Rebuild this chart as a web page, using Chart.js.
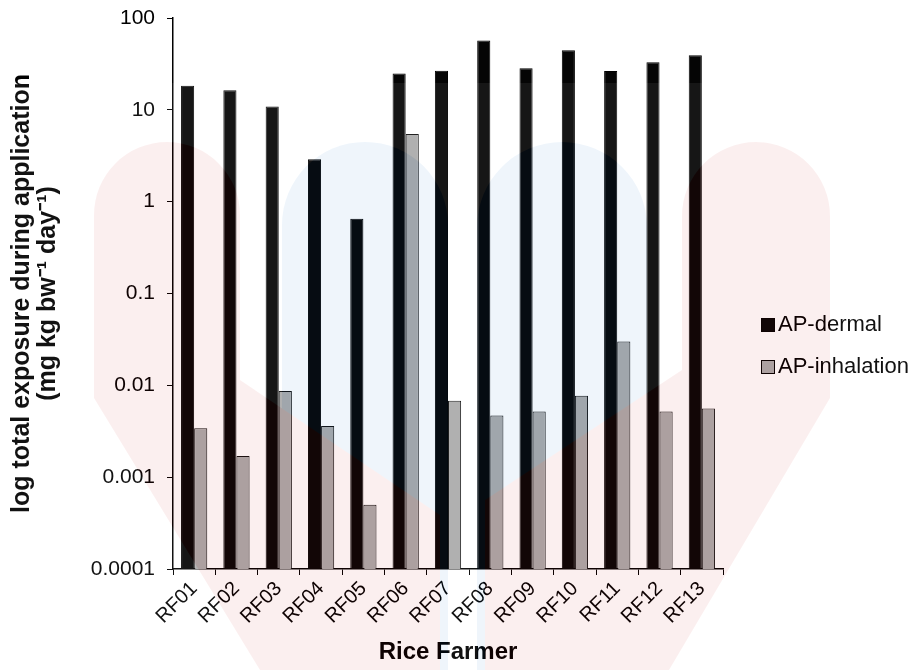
<!DOCTYPE html>
<html>
<head>
<meta charset="utf-8">
<script src="https://cdn.jsdelivr.net/npm/chart.js@4/dist/chart.umd.min.js"></script>
<style>
  html, body { margin: 0; padding: 0; background: #fff; }
  #wrap { position: relative; width: 918px; height: 670px; }
  #chart { position: absolute; left: 0; top: 0; }
  #mark { position: absolute; left: 0; top: 0; pointer-events: none; }
</style>
</head>
<body>
<div id="wrap">
  <canvas id="chart" width="918" height="670"></canvas>
  <!-- faint watermark seen behind the original figure -->
  <svg id="mark" width="918" height="670" viewBox="0 0 918 670">
    <g opacity="0.07">
      <rect x="0" y="83" width="918" height="587" fill="#fff"/>
      <path fill="rgb(28,115,200)" d="M282,670 L282,225 A83,83 0 0 1 448,225 L448,670 Z"/>
      <path fill="rgb(28,115,200)" d="M477,670 L477,227 A85,85 0 0 1 647,227 L647,670 Z"/>
      <path fill="rgb(200,40,40)" d="M260,670 L94,398 L94,215 A73,73 0 0 1 240,215 L240,380 L440,515 L440,670 Z"/>
      <path fill="rgb(200,40,40)" d="M485,500 L682,370 L682,216 A74,74 0 0 1 830,216 L830,398 L669,670 L485,670 Z"/>
    </g>
  </svg>
</div>
<script>
/* Rice farmers: total exposure during application (log scale) */

const farmers    = ['RF01', 'RF02', 'RF03', 'RF04', 'RF05', 'RF06', 'RF07',
                    'RF08', 'RF09', 'RF10', 'RF11', 'RF12', 'RF13'];
const dermal     = [18.3, 16.3, 10.9, 2.9, 0.65, 24.9, 26.7, 57, 28.3, 44.5, 26.5, 32.9, 39.3];
const inhalation = [0.0034, 0.0017, 0.0087, 0.0036, 0.0005, 5.45, 0.0068,
                    0.0047, 0.0052, 0.0077, 0.030, 0.0052, 0.0056];
const yTicks     = [0.0001, 0.001, 0.01, 0.1, 1, 10, 100];

const FONT = 'Liberation Sans, Arial, Helvetica, sans-serif';

// legend drawn at the right, beside the plot
const sideLegend = {
    id: 'sideLegend',
    afterDraw(chart, args, opts) {
        const ctx = chart.ctx;
        ctx.save();
        ctx.font = `${opts.size}px ${FONT}`;
        ctx.textBaseline = 'middle';
        chart.data.datasets.forEach((ds, i) => {
            const y = opts.y + i * opts.gap;
            ctx.fillStyle = ds.backgroundColor;
            ctx.fillRect(opts.x, y - opts.box / 2, opts.box, opts.box);
            ctx.strokeStyle = '#000';
            ctx.lineWidth = 1;
            ctx.strokeRect(opts.x + 0.5, y - opts.box / 2 + 0.5, opts.box - 1, opts.box - 1);
            ctx.fillStyle = '#000';
            ctx.fillText(ds.label, opts.x + opts.box + 3, y);
        });
        ctx.restore();
    }
};

new Chart(document.getElementById('chart').getContext('2d'), {
    type: 'bar',
    data: {
        labels: farmers,
        datasets: [
            { label: 'AP-dermal', data: dermal,
              backgroundColor: '#050505', borderColor: '#000', borderWidth: 1 },
            { label: 'AP-inhalation', data: inhalation,
              backgroundColor: '#aaaaaa', borderColor: '#111', borderWidth: 1 }
        ]
    },
    options: {
        responsive: false,
        animation: false,
        devicePixelRatio: 1,
        categoryPercentage: 0.62,
        barPercentage: 1.0,
        layout: { padding: { top: 18, right: 195, bottom: 0, left: 0 } },
        plugins: {
            legend: { display: false },
            tooltip: { enabled: false },
            sideLegend: { x: 761, y: 325, gap: 42, box: 14, size: 22 }
        },
        scales: {
            x: {
                grid: { drawOnChartArea: false, color: '#000', tickLength: 6, offset: true },
                border: { display: true, color: '#000', width: 1.5 },
                ticks: {
                    color: '#000', font: { family: FONT, size: 20 },
                    minRotation: 45, maxRotation: 45, autoSkip: false, padding: 2
                },
                title: {
                    display: true, text: 'Rice Farmer', color: '#000',
                    font: { family: FONT, size: 24, weight: 'bold' },
                    padding: { top: 0, bottom: 3 }
                },
                afterFit: s => { s.height = 101; }
            },
            y: {
                type: 'logarithmic',
                min: 0.0001, max: 100,
                afterBuildTicks: s => { s.ticks = yTicks.map(v => ({ value: v })); },
                grid: { drawOnChartArea: false, color: '#000', tickLength: 6 },
                border: { display: true, color: '#000', width: 1.5 },
                ticks: {
                    color: '#000', font: { family: FONT, size: 21 }, padding: 12,
                    callback: v => yTicks.includes(v) ? String(v) : ''
                },
                title: {
                    display: true,
                    text: ['log total exposure during application', '(mg kg bw\u207B\u00B9 day\u207B\u00B9)'],
                    color: '#000',
                    font: { family: FONT, size: 25, weight: 'bold', lineHeight: 1.04 },
                    padding: { top: 9, bottom: 0 }
                },
                afterFit: s => { s.width = 173; s.paddingTop = 0; s.paddingBottom = 0; }
            }
        }
    },
    plugins: [sideLegend]
});
</script>
</body>
</html>
